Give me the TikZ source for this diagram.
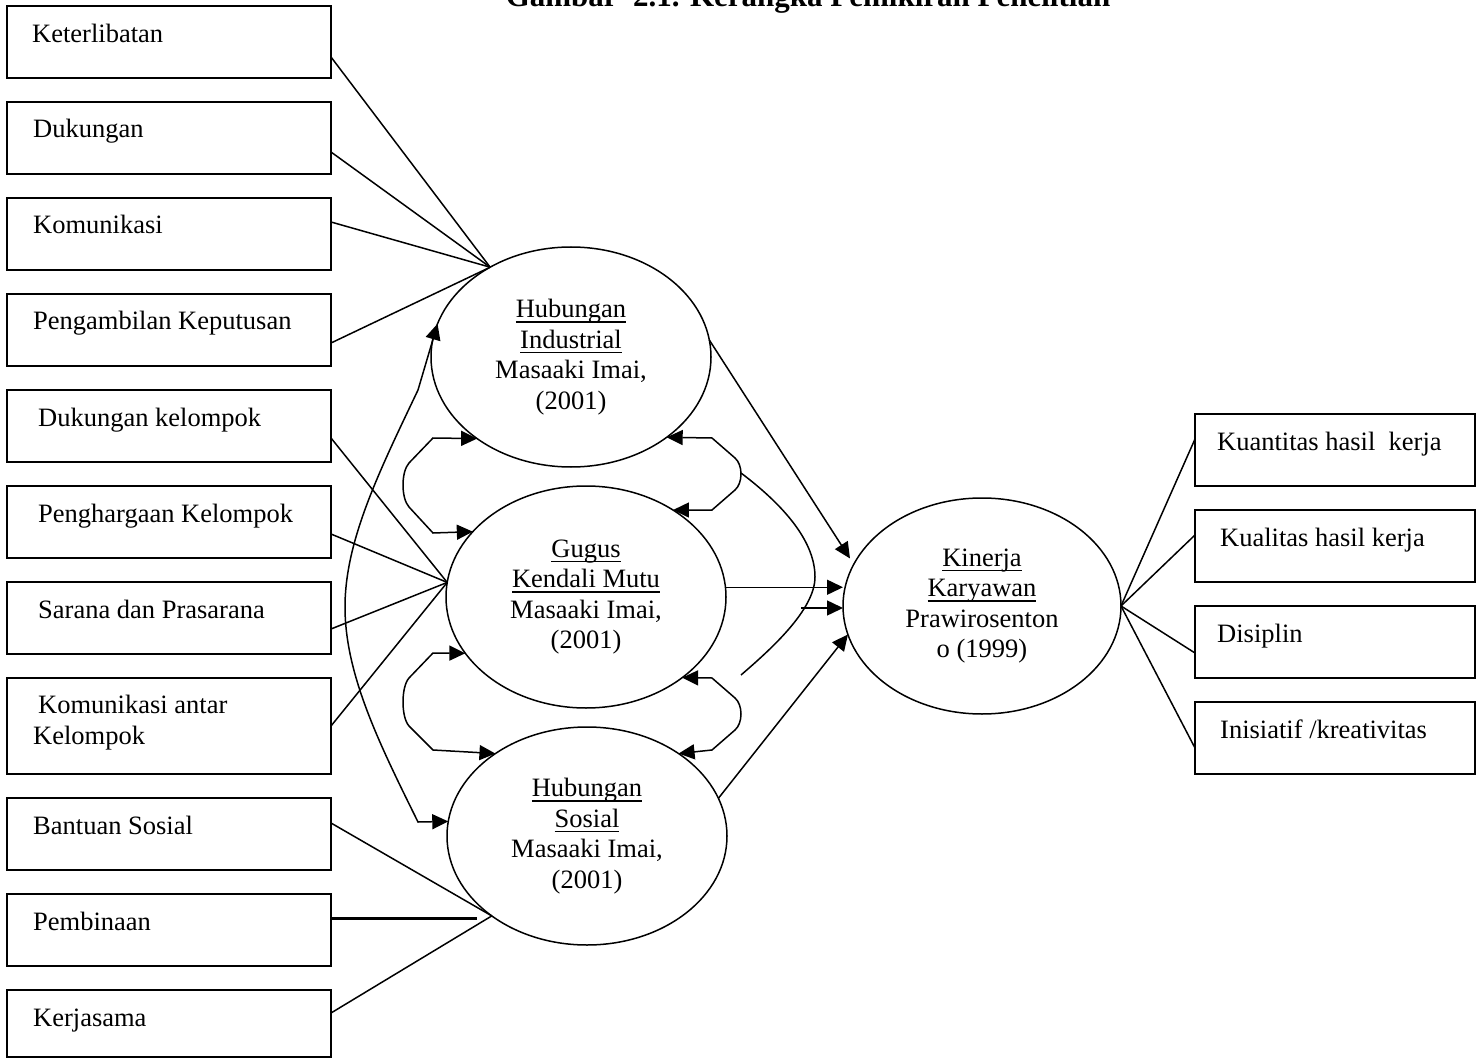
\documentclass[tikz,border=0pt]{standalone}
\usepackage{fontspec}
\setmainfont{Liberation Serif}
\usetikzlibrary{arrows.meta,shapes.geometric}
\newcommand{\ulw}[1]{\setbox0\hbox{#1}\rlap{\rule[-5pt]{\wd0}{1.3pt}}\box0}
\newcommand{\fs}{\fontsize{26.5}{30.5}\selectfont}
\begin{document}
\begin{tikzpicture}[x=1pt,y=-1pt,
  box/.style={draw,line width=1.5pt,inner sep=0pt,outer sep=0pt,anchor=north west,minimum height=72pt},
  lbox/.style={box,minimum width=324pt},
  rbox/.style={box,minimum width=280pt},
  lbl/.style={anchor=base west,inner sep=0pt,font=\fs},
  ell/.style={draw,ellipse,line width=1.5pt,inner sep=0pt,outer sep=0pt,align=center,font=\fs},
  conn/.style={line width=1.5pt},
  mytip/.tip={Triangle[length=16pt,width=15pt]},
  arr/.style={conn,-mytip},
  darr/.style={conn,mytip-mytip},
]
\path[use as bounding box,fill=white] (0,0) rectangle (1481,1059);

% title
\node[font=\fontsize{31}{36}\selectfont\bfseries,anchor=base,inner sep=0pt] (title) at (808,7) {Gambar\ \ 2.1. Kerangka Pemikiran Penelitian};

% left boxes
\node[lbox] (b1) at (7,6) {};
\node[lbox] (b2) at (7,102) {};
\node[lbox] (b3) at (7,198) {};
\node[lbox] (b4) at (7,294) {};
\node[lbox] (b5) at (7,390) {};
\node[lbox] (b6) at (7,486) {};
\node[lbox] (b7) at (7,582) {};
\node[lbox,minimum height=96pt] (b8) at (7,678) {};
\node[lbox] (b9) at (7,798) {};
\node[lbox] (b10) at (7,894) {};
\node[lbox,minimum height=67pt] (b11) at (7,990) {};

\node[lbl] (t1) at ([xshift=25pt,yshift=-37pt]b1.north west) {Keterlibatan};
\node[lbl] (t2) at ([xshift=26pt,yshift=-36pt]b2.north west) {Dukungan};
\node[lbl] (t3) at ([xshift=26pt,yshift=-36pt]b3.north west) {Komunikasi};
\node[lbl] (t4) at ([xshift=26pt,yshift=-36pt]b4.north west) {Pengambilan Keputusan};
\node[lbl] (t5) at ([xshift=31pt,yshift=-36pt]b5.north west) {Dukungan kelompok};
\node[lbl] (t6) at ([xshift=31pt,yshift=-36pt]b6.north west) {Penghargaan Kelompok};
\node[lbl] (t7) at ([xshift=31pt,yshift=-36pt]b7.north west) {Sarana dan Prasarana};
\node[lbl] (t8a) at ([xshift=31pt,yshift=-35pt]b8.north west) {Komunikasi antar};
\node[lbl] (t8b) at ([xshift=26pt,yshift=-66pt]b8.north west) {Kelompok};
\node[lbl] (t9) at ([xshift=26pt,yshift=-36pt]b9.north west) {Bantuan Sosial};
\node[lbl] (t10) at ([xshift=26pt,yshift=-36pt]b10.north west) {Pembinaan};
\node[lbl] (t11) at ([xshift=26pt,yshift=-36pt]b11.north west) {Kerjasama};

% right boxes
\node[rbox] (r1) at (1195,414) {};
\node[rbox] (r2) at (1195,510) {};
\node[rbox] (r3) at (1195,606) {};
\node[rbox] (r4) at (1195,702) {};
\node[lbl] (u1) at ([xshift=22pt,yshift=-36pt]r1.north west) {Kuantitas hasil\ \ kerja};
\node[lbl] (u2) at ([xshift=25pt,yshift=-36pt]r2.north west) {Kualitas hasil kerja};
\node[lbl] (u3) at ([xshift=22pt,yshift=-36pt]r3.north west) {Disiplin};
\node[lbl] (u4) at ([xshift=25pt,yshift=-36pt]r4.north west) {Inisiatif /kreativitas};

% ellipses
\node[ell,minimum width=280pt,minimum height=220pt] (hi) at (571,357) {\ulw{Hubungan}\\\ulw{Industrial}\\Masaaki Imai,\\(2001)};
\node[ell,minimum width=280pt,minimum height=222pt] (gkm) at (586,597) {\ulw{Gugus}\\\ulw{Kendali Mutu}\\Masaaki Imai,\\(2001)};
\node[ell,minimum width=280pt,minimum height=218pt] (hs) at (587,836) {\ulw{Hubungan}\\\ulw{Sosial}\\Masaaki Imai,\\(2001)};
\node[ell,minimum width=278pt,minimum height=216pt] (kin) at (982,606) {\ulw{Kinerja}\\\ulw{Karyawan}\\Prawirosenton\\o (1999)};

% left fans
\draw[conn] ([yshift=-15pt]b1.east) -- (hi.132);
\draw[conn] ([yshift=-14pt]b2.east) -- (hi.132);
\draw[conn] ([yshift=12pt]b3.east) -- (hi.132);
\draw[conn] ([yshift=-13pt]b4.east) -- (hi.132);
\draw[conn] ([yshift=-12pt]b5.east) -- (gkm.174);
\draw[conn] ([yshift=-12pt]b6.east) -- (gkm.174);
\draw[conn] ([yshift=-11pt]b7.east) -- (gkm.174);
\draw[conn] (b8.east) -- (gkm.174);
\draw[conn] ([yshift=11pt]b9.east) -- (hs.220);
\coordinate (pb) at (477,918);
\draw[line width=3pt] ([yshift=12pt]b10.east) -- (pb);
\draw[conn] ([yshift=10.5pt]b11.east) -- (hs.220);

% right fan
\draw[conn] (kin.east) -- ([yshift=11pt]r1.west);
\draw[conn] (kin.east) -- ([yshift=11pt]r2.west);
\draw[conn] (kin.east) -- ([yshift=-11pt]r3.west);
\draw[conn] (kin.east) -- ([yshift=-10pt]r4.west);

% arrows to Kinerja
\draw[arr,shorten >=7pt] (hi.7) -- (kin.162);
\draw[arr] (gkm.4) -- (gkm.4 -| kin.west);
\coordinate (s1) at (801,608);
\draw[conn] (741,473) .. controls (790,510) and (815,545) .. (815,577) .. controls (815,610) and (770,650) .. (741,675);
\draw[arr] (s1) -- (s1 -| kin.west);
\draw[arr] (hs.16) -- (kin.192);

% bracket arrows
\draw[darr] (hi.221) -- (433,438) -- (409,463) .. controls (401,472) and (401,498) .. (409,507) -- (433,533) -- (gkm.150);
\draw[darr] (gkm.205) -- (433,653) -- (409,678) .. controls (401,687) and (401,717) .. (409,726) -- (433,750) -- (hs.138);
\draw[darr] (hi.320) -- (712,438) -- (735,458) .. controls (743,465) and (743,483) .. (735,490) -- (712,510) -- (gkm.45);
\draw[darr] (gkm.320) -- (712,678) -- (735,698) .. controls (743,705) and (743,723) .. (735,730) -- (712,750) -- (hs.42);
\draw[darr] (hi.166) -- (418,390) .. controls (380,470) and (345,540) .. (345,607) .. controls (345,675) and (380,745) .. (418,822) -- (hs.174);
\end{tikzpicture}
\end{document}
